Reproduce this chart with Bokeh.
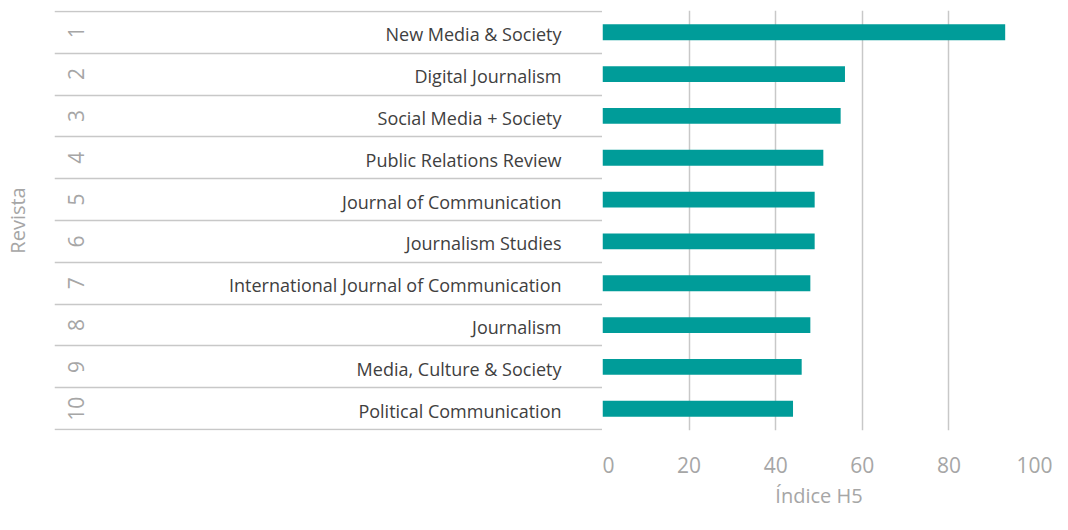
import math
from bokeh.plotting import figure
from bokeh.layouts import row
from bokeh.models import Range1d, FixedTicker, ColumnDataSource
from bokeh.core.properties import value
from bokeh.embed import file_html
from bokeh.resources import INLINE

ranks = [1, 2, 3, 4, 5, 6, 7, 8, 9, 10]
journals = [
    "New Media & Society",
    "Digital Journalism",
    "Social Media + Society",
    "Public Relations Review",
    "Journal of Communication",
    "Journalism Studies",
    "International Journal of Communication",
    "Journalism",
    "Media, Culture & Society",
    "Political Communication",
]
h5_index = [93, 56, 55, 51, 49, 49, 48, 48, 46, 44]
x_ticks = [0, 20, 40, 60, 80, 100]
x_title = "Índice H5"
y_title = "Revista"

FONT = "Open Sans"
GREY_TXT = "#A6A6A6"
LINE = "#C8C8C8"
BAR = "#009C99"

H = 514
TOP = 10
BOTTOM = 84
LEFT_BORDER = 54
LEFT_W = 602
RIGHT_W = 1052 - LEFT_W
TABLE_W = LEFT_W - LEFT_BORDER

src = ColumnDataSource(dict(rank=ranks, name=journals, val=h5_index,
                            rank_txt=[str(r) for r in ranks]))
bounds = [r - 0.5 for r in ranks] + [ranks[-1] + 0.5]
yr = Range1d(ranks[-1] + 0.52, ranks[0] - 0.52)

# left table figure
pl = figure(width=LEFT_W, height=H, output_backend="svg", toolbar_location=None,
            x_range=Range1d(0, TABLE_W), y_range=yr,
            min_border_left=LEFT_BORDER, min_border_right=0,
            min_border_top=TOP, min_border_bottom=BOTTOM)
pl.outline_line_color = None
pl.grid.visible = False
pl.xaxis.visible = False
pl.yaxis.ticker = FixedTicker(ticks=[])
pl.yaxis.axis_label = y_title
pl.yaxis.axis_label_text_font = FONT
pl.yaxis.axis_label_text_font_style = "normal"
pl.yaxis.axis_label_text_font_size = "20px"
pl.yaxis.axis_label_text_color = GREY_TXT
pl.yaxis.axis_label_standoff = 24
pl.yaxis.major_tick_line_color = None
pl.yaxis.minor_tick_line_color = None
pl.yaxis.axis_line_color = None

pl.hspan(y=bounds, line_color=LINE, line_width=1.5)
pl.text(x=TABLE_W - 41, y="rank", text="name", source=src, text_align="right",
        text_baseline="middle", text_font=value(FONT), text_font_size="18px",
        text_color="#404040", y_offset=2)
pl.text(x=21, y="rank", text="rank_txt", source=src, text_align="center",
        text_baseline="middle", angle=math.pi / 2, text_font=value(FONT),
        text_font_size="21px", text_color=GREY_TXT)

# right bar figure
pr = figure(width=RIGHT_W, height=H, output_backend="svg", toolbar_location=None,
            x_range=Range1d(0, 100), y_range=yr,
            min_border_left=0, min_border_right=17,
            min_border_top=TOP, min_border_bottom=BOTTOM)
pr.outline_line_color = None
pr.yaxis.visible = False
pr.ygrid.visible = False
pr.xgrid.ticker = FixedTicker(ticks=x_ticks)
pr.xaxis.ticker = FixedTicker(ticks=x_ticks)
pr.xgrid.grid_line_color = LINE
pr.xgrid.grid_line_width = 1.5
pr.xaxis.axis_line_color = None
pr.xaxis.major_tick_line_color = None
pr.xaxis.minor_tick_line_color = None
pr.xaxis.major_label_text_font = FONT
pr.xaxis.major_label_text_font_size = "21px"
pr.xaxis.major_label_text_color = GREY_TXT
pr.xaxis.major_label_standoff = 20
pr.xaxis.axis_label = x_title
pr.xaxis.axis_label_text_font = FONT
pr.xaxis.axis_label_text_font_style = "normal"
pr.xaxis.axis_label_text_font_size = "20px"
pr.xaxis.axis_label_text_color = GREY_TXT
pr.xaxis.axis_label_standoff = 6

pr.hbar(y="rank", left=0, right="val", height=0.38, source=src,
        fill_color=BAR, line_color=None)

layout = row(pl, pr, spacing=0)
open("out.html", "w").write(file_html(layout, INLINE))
